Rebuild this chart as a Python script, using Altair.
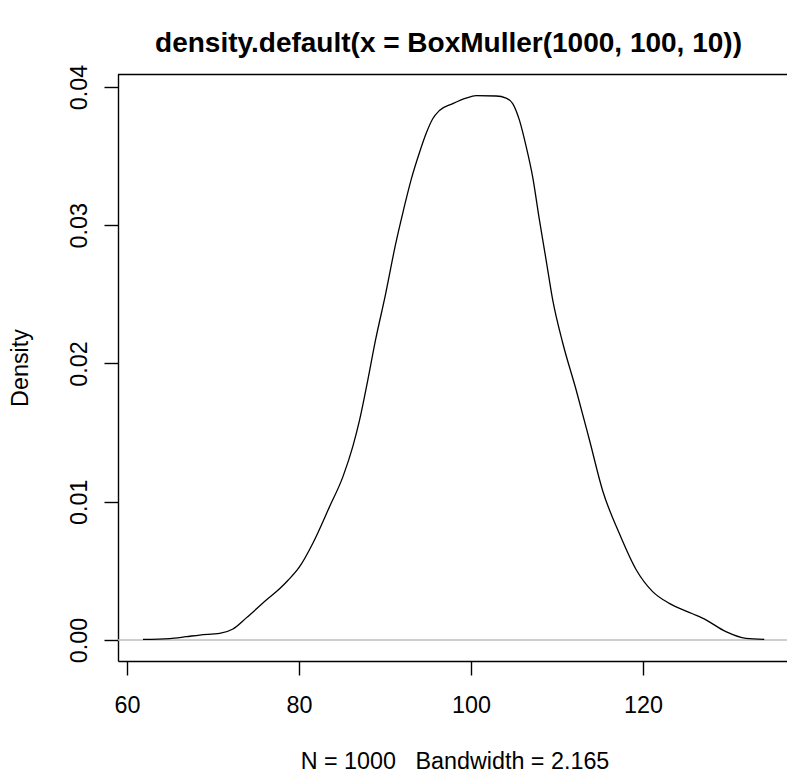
import altair as alt
import pandas as pd

# Density curve (x value, density)
xs = [61.86, 64.96, 66.90, 68.45, 70.77, 72.32, 73.87, 76.20, 77.74, 78.70,
      80.07, 81.61, 83.55, 85.10, 86.26, 87.04, 88.00, 88.90, 90.06, 91.22,
      92.15, 93.04, 94.01, 94.79, 95.55, 96.33, 97.88, 99.43, 100.60, 102.92,
      104.08, 104.85, 105.63, 106.41, 107.17, 107.95, 108.73, 109.50, 110.66,
      112.22, 113.76, 115.31, 117.25, 119.19, 121.12, 123.06, 125.76, 127.32,
      129.64, 131.97, 134.10]
ys = [0.00004, 0.0001, 0.00024, 0.00036, 0.00048, 0.0008, 0.0016, 0.00289,
      0.0037, 0.0043, 0.0053, 0.0070, 0.00964, 0.0118, 0.0140, 0.0159, 0.0188,
      0.0217, 0.0250, 0.0286, 0.0311, 0.0333, 0.03526, 0.03665, 0.0377, 0.0383,
      0.0388, 0.0392, 0.03937, 0.03935, 0.0392, 0.0388, 0.0376, 0.0357, 0.0335,
      0.0304, 0.0275, 0.0246, 0.0215, 0.0181, 0.0145, 0.0108, 0.0077, 0.0051,
      0.0035, 0.00265, 0.0019, 0.00145, 0.0006, 0.00012, 0.00005]

x_ticks = [60, 80, 100, 120]
y_ticks = [0.00, 0.01, 0.02, 0.03, 0.04]
title_text = "density.default(x = BoxMuller(1000, 100, 10))"
x_title = "N = 1000\u00a0\u00a0\u00a0Bandwidth = 2.165"
y_title = "Density"

FONT = "Liberation Sans"
FS = 23.33
W, H = 669, 587

df = pd.DataFrame({"value": xs, "density": ys})

x_scale = alt.Scale(domain=[58.953, 136.744], nice=False, zero=False)
y_scale = alt.Scale(domain=[-0.001519, 0.04094], nice=False, zero=False)

line = alt.Chart(df).mark_line(color="black", strokeWidth=1.3, interpolate="monotone").encode(
    x=alt.X("value:Q", scale=x_scale, axis=alt.Axis(
        values=x_ticks, format="d", title=x_title, grid=False,
        tickSize=14, tickWidth=1.4, tickColor="black",
        domainColor="black", domainWidth=1.4,
        labelFont=FONT, labelFontSize=FS, labelColor="black",
        labelPadding=37.8, labelBaseline="alphabetic", labelFlush=False,
        titleFont=FONT, titleFontSize=FS, titleFontWeight="normal", titleColor="black",
        titleX=336.5, titleY=107.8, titleAlign="center", titleBaseline="alphabetic",
    )),
    y=alt.Y("density:Q", scale=y_scale, axis=alt.Axis(
        values=y_ticks, format=".2f", title=y_title, grid=False,
        tickSize=14, tickWidth=1.4, tickColor="black",
        domainColor="black", domainWidth=1.4,
        labelFont=FONT, labelFontSize=FS, labelColor="black",
        labelAngle=270, labelAlign="center", labelBaseline="alphabetic",
        labelPadding=17.5, labelFlush=False,
        titleFont=FONT, titleFontSize=FS, titleFontWeight="normal", titleColor="black",
        titleAngle=270, titleX=-90.2, titleY=293.5, titleAlign="center",
        titleBaseline="alphabetic",
    )),
)

zero = alt.Chart(pd.DataFrame({"density": [0.0]})).mark_rule(
    color="#bebebe", strokeWidth=1.4
).encode(y=alt.Y("density:Q", scale=y_scale))

top_border = alt.Chart(pd.DataFrame({"k": [0]})).mark_rule(
    color="black", strokeWidth=1.4
).encode(x=alt.value(0), x2=alt.value(W), y=alt.value(0.5))

title = alt.Chart(pd.DataFrame({"t": [title_text]})).mark_text(
    font=FONT, fontSize=28, fontWeight="bold", align="center",
    baseline="alphabetic", color="black"
).encode(x=alt.value(330.5), y=alt.value(-22), text="t:N")

chart = alt.layer(zero, line, top_border, title).properties(
    width=W, height=H,
    autosize=alt.AutoSizeParams(type="none"),
    padding={"left": 118, "top": 74, "right": 0, "bottom": 113},
    background="white",
).configure_view(stroke=None)

chart.save("out.html", embed_options={"renderer": "svg", "actions": False})
